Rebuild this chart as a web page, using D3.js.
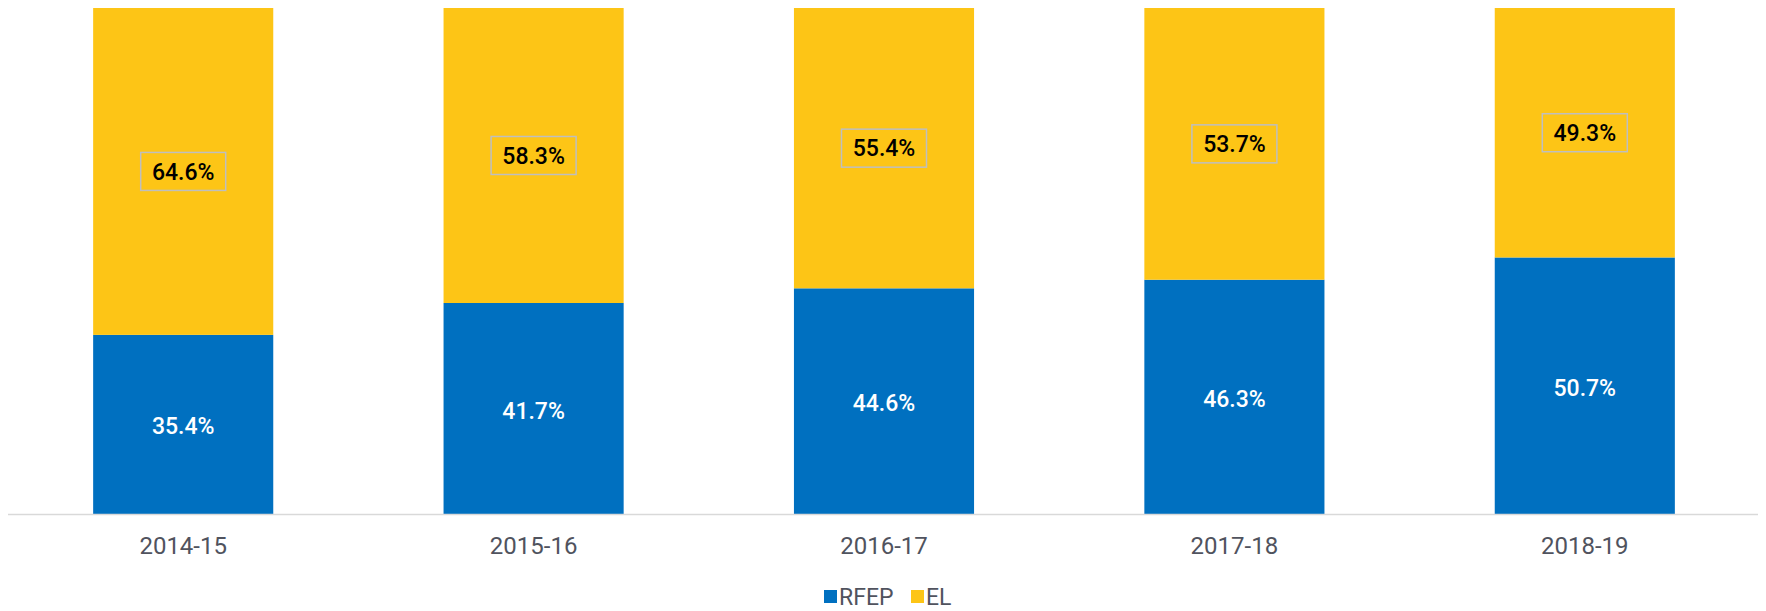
<!DOCTYPE html>
<html>
<head>
<meta charset="utf-8">
<script src="https://cdn.jsdelivr.net/npm/d3@7"></script>
<style>
  body { margin: 0; background: #fff; }
  text { font-family: Roboto, "Noto Sans", sans-serif; }
</style>
</head>
<body>
<div id="chart"></div>
<script>
const width = 1766;
const height = 611;

// data
const years = ["2014-15", "2015-16", "2016-17", "2017-18", "2018-19"];
const rfep = [35.4, 41.7, 44.6, 46.3, 50.7];
const el = [64.6, 58.3, 55.4, 53.7, 49.3];
const seriesNames = ["RFEP", "EL"];
const colors = ["#0070C0", "#FDC516"];

const rows = years.map((y, i) => ({ year: y, RFEP: rfep[i], EL: el[i] }));
const stacked = d3.stack().keys(seriesNames)(rows);

const svg = d3
  .select("#chart")
  .append("svg")
  .attr("width", width)
  .attr("height", height);

const x = d3.scaleBand().domain(years).range([8, 1760]).paddingInner(0.486).paddingOuter(0.243);
const y = d3.scaleLinear().domain([0, 100]).range([514, 8]);

// bars
svg
  .append("g")
  .selectAll("g")
  .data(stacked)
  .join("g")
  .attr("fill", (d, i) => colors[i])
  .selectAll("rect")
  .data((d) => d)
  .join("rect")
  .attr("x", (d) => x(d.data.year))
  .attr("y", (d) => y(d[1]))
  .attr("width", x.bandwidth())
  .attr("height", (d) => y(d[0]) - y(d[1]));

// axis baseline
svg
  .append("line")
  .attr("x1", 8)
  .attr("x2", 1758)
  .attr("y1", 514.5)
  .attr("y2", 514.5)
  .attr("stroke", "#D9D9D9")
  .attr("stroke-width", 1.5);

// x labels
svg
  .append("g")
  .selectAll("text")
  .data(years)
  .join("text")
  .attr("x", (d) => x(d) + x.bandwidth() / 2)
  .attr("y", 545.5)
  .attr("dy", "0.35em")
  .attr("text-anchor", "middle")
  .attr("font-size", 24)
  .attr("fill", "#50535E")
  .text((d) => d);

// RFEP labels
svg
  .append("g")
  .selectAll("text")
  .data(stacked[0])
  .join("text")
  .attr("x", (d) => x(d.data.year) + x.bandwidth() / 2)
  .attr("y", (d) => (y(d[0]) + y(d[1])) / 2 + 2)
  .attr("dy", "0.35em")
  .attr("text-anchor", "middle")
  .attr("font-size", 23)
  .attr("font-weight", 500)
  .attr("fill", "#fff")
  .text((d) => d.data.RFEP.toFixed(1) + "%");

// EL labels with boxes
const elLab = svg
  .append("g")
  .selectAll("g")
  .data(stacked[1])
  .join("g")
  .attr("transform", (d) => `translate(${x(d.data.year) + x.bandwidth() / 2} ${(y(d[0]) + y(d[1])) / 2})`);

elLab
  .append("rect")
  .attr("x", -42.5)
  .attr("y", -19)
  .attr("width", 85)
  .attr("height", 38)
  .attr("fill", "none")
  .attr("stroke", "#BFBFBF")
  .attr("stroke-width", 1.5);

elLab
  .append("text")
  .attr("dy", "0.35em")
  .attr("text-anchor", "middle")
  .attr("font-size", 23)
  .attr("font-weight", 500)
  .attr("fill", "#000")
  .text((d) => d.data.EL.toFixed(1) + "%");

// legend
const legendX = [824, 911];
const legend = svg
  .append("g")
  .selectAll("g")
  .data(seriesNames)
  .join("g")
  .attr("transform", (d, i) => `translate(${legendX[i]} 590)`);

legend
  .append("rect")
  .attr("width", 13)
  .attr("height", 13)
  .attr("fill", (d, i) => colors[i]);

legend
  .append("text")
  .attr("x", 15)
  .attr("y", 6.5)
  .attr("dy", "0.35em")
  .attr("font-size", 23)
  .attr("fill", "#50535E")
  .text((d) => d);
</script>
</body>
</html>
